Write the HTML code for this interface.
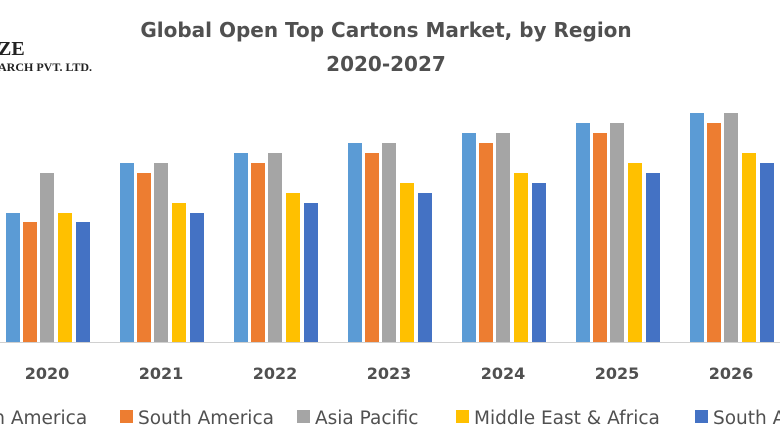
<!DOCTYPE html>
<html><head><meta charset="utf-8"><style>
body{margin:0;width:780px;height:440px;background:#fff;overflow:hidden;position:relative}
</style></head><body>
<svg width="780" height="440" style="position:absolute;left:0;top:0">
<g font-family="DejaVu Sans, Liberation Sans, sans-serif">
<text x="386" y="37" text-anchor="middle" font-size="20" font-weight="bold" fill="#505050">Global Open Top Cartons Market, by Region</text>
<text x="386" y="71" text-anchor="middle" font-size="20" font-weight="bold" fill="#505050">2020-2027</text>
</g>
<g font-family="Liberation Serif, serif" font-weight="bold" fill="#222">
<text x="-2" y="55" font-size="20">ZE</text>
<text x="-2" y="71" font-size="12">ARCH PVT. LTD.</text>
</g>
<line x1="0" y1="342.5" x2="780" y2="342.5" stroke="#d0d0d0" stroke-width="1"/>
<g>
<rect x="6" y="213" width="14" height="129" fill="#5B9BD5"/><rect x="23" y="222" width="14" height="120" fill="#ED7D31"/><rect x="40" y="173" width="14" height="169" fill="#A5A5A5"/><rect x="58" y="213" width="14" height="129" fill="#FFC000"/><rect x="76" y="222" width="14" height="120" fill="#4472C4"/>
<rect x="120" y="163" width="14" height="179" fill="#5B9BD5"/><rect x="137" y="173" width="14" height="169" fill="#ED7D31"/><rect x="154" y="163" width="14" height="179" fill="#A5A5A5"/><rect x="172" y="203" width="14" height="139" fill="#FFC000"/><rect x="190" y="213" width="14" height="129" fill="#4472C4"/>
<rect x="234" y="153" width="14" height="189" fill="#5B9BD5"/><rect x="251" y="163" width="14" height="179" fill="#ED7D31"/><rect x="268" y="153" width="14" height="189" fill="#A5A5A5"/><rect x="286" y="193" width="14" height="149" fill="#FFC000"/><rect x="304" y="203" width="14" height="139" fill="#4472C4"/>
<rect x="348" y="143" width="14" height="199" fill="#5B9BD5"/><rect x="365" y="153" width="14" height="189" fill="#ED7D31"/><rect x="382" y="143" width="14" height="199" fill="#A5A5A5"/><rect x="400" y="183" width="14" height="159" fill="#FFC000"/><rect x="418" y="193" width="14" height="149" fill="#4472C4"/>
<rect x="462" y="133" width="14" height="209" fill="#5B9BD5"/><rect x="479" y="143" width="14" height="199" fill="#ED7D31"/><rect x="496" y="133" width="14" height="209" fill="#A5A5A5"/><rect x="514" y="173" width="14" height="169" fill="#FFC000"/><rect x="532" y="183" width="14" height="159" fill="#4472C4"/>
<rect x="576" y="123" width="14" height="219" fill="#5B9BD5"/><rect x="593" y="133" width="14" height="209" fill="#ED7D31"/><rect x="610" y="123" width="14" height="219" fill="#A5A5A5"/><rect x="628" y="163" width="14" height="179" fill="#FFC000"/><rect x="646" y="173" width="14" height="169" fill="#4472C4"/>
<rect x="690" y="113" width="14" height="229" fill="#5B9BD5"/><rect x="707" y="123" width="14" height="219" fill="#ED7D31"/><rect x="724" y="113" width="14" height="229" fill="#A5A5A5"/><rect x="742" y="153" width="14" height="189" fill="#FFC000"/><rect x="760" y="163" width="14" height="179" fill="#4472C4"/>
</g>
<g font-family="DejaVu Sans, Liberation Sans, sans-serif" font-size="16" font-weight="bold" fill="#505050" text-anchor="middle">
<text x="47" y="379">2020</text><text x="161" y="379">2021</text><text x="275" y="379">2022</text><text x="389" y="379">2023</text><text x="503" y="379">2024</text><text x="617" y="379">2025</text><text x="731" y="379">2026</text>
</g>
<g font-family="DejaVu Sans, Liberation Sans, sans-serif" font-size="18.5" fill="#505050">
<text x="-14" y="424">th America</text>
<rect x="120" y="410" width="13" height="13" fill="#ED7D31"/><text x="138" y="424">South America</text>
<rect x="297" y="410" width="13" height="13" fill="#A5A5A5"/><text x="315" y="424">Asia Pacific</text>
<rect x="456" y="410" width="13" height="13" fill="#FFC000"/><text x="474" y="424">Middle East &amp; Africa</text>
<rect x="695" y="410" width="13" height="13" fill="#4472C4"/><text x="713" y="424">South A</text>
</g>
</svg>
</body></html>
